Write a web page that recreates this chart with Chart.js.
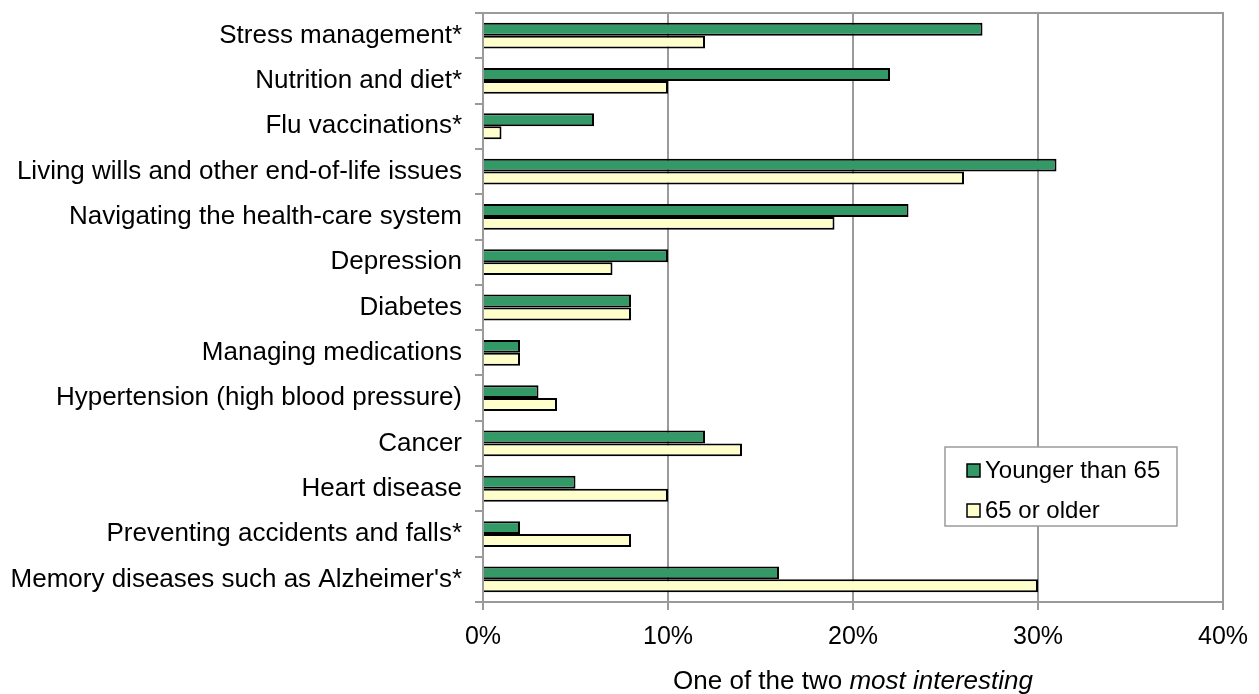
<!DOCTYPE html>
<html>
<head>
<meta charset="utf-8">
<script src="https://cdn.jsdelivr.net/npm/chart.js@4.4.0/dist/chart.umd.min.js"></script>
<style>
  html, body { margin: 0; padding: 0; background: #fff; }
  #wrap { width: 1259px; height: 694px; }
</style>
</head>
<body>
<div id="wrap"><canvas id="chart" width="1259" height="694"></canvas></div>
<script>
const topics = [
    'Stress management*',
    'Nutrition and diet*',
    'Flu vaccinations*',
    'Living wills and other end-of-life issues',
    'Navigating the health-care system',
    'Depression',
    'Diabetes',
    'Managing medications',
    'Hypertension (high blood pressure)',
    'Cancer',
    'Heart disease',
    'Preventing accidents and falls*',
    "Memory diseases such as Alzheimer's*"
];
const youngerThan65 = [27, 22, 6, 31, 23, 10, 8, 2, 3, 12, 5, 2, 16];
const olderThan65 = [12, 10, 1, 26, 19, 7, 8, 2, 4, 14, 10, 8, 30];
const seriesNames = ['Younger than 65', '65 or older'];
const xTicks = [0, 10, 20, 30, 40];

const FONT = "'Liberation Sans', Arial, sans-serif";
const GRID = '#9a9a9a';

// plot frame in gray
const framePlugin = {
    id: 'frame',
    afterDatasetsDraw(chart) {
        const { ctx, chartArea: a } = chart;
        ctx.save();
        ctx.strokeStyle = GRID;
        ctx.lineWidth = 2;
        ctx.strokeRect(a.left, a.top, a.right - a.left, a.bottom - a.top);
        ctx.restore();
    }
};

// boxed legend sitting inside the plot
const boxLegend = {
    id: 'boxLegend',
    afterDraw(chart) {
        const ctx = chart.ctx;
        const x = 945, y = 447, w = 232, h = 79;
        ctx.save();
        ctx.fillStyle = '#fff';
        ctx.fillRect(x, y, w, h);
        ctx.strokeStyle = GRID;
        ctx.lineWidth = 1.5;
        ctx.strokeRect(x, y, w, h);
        ctx.font = '24px ' + FONT;
        ctx.textBaseline = 'middle';
        chart.data.datasets.forEach((ds, i) => {
            const cy = y + 23 + i * 40;
            ctx.fillStyle = ds.backgroundColor;
            ctx.fillRect(x + 22, cy - 6, 13, 13);
            ctx.strokeStyle = '#000';
            ctx.lineWidth = 1.5;
            ctx.strokeRect(x + 22, cy - 6, 13, 13);
            ctx.fillStyle = '#000';
            ctx.fillText(ds.label, x + 40, cy + 1);
        });
        ctx.restore();
    }
};

// axis title with an italic part
const xTitle = {
    id: 'xTitle',
    afterDraw(chart) {
        const { ctx, chartArea: a } = chart;
        const plain = 'One of the two ';
        const ital = 'most interesting';
        ctx.save();
        ctx.fillStyle = '#000';
        ctx.textBaseline = 'alphabetic';
        ctx.font = '26px ' + FONT;
        const w1 = ctx.measureText(plain).width;
        ctx.font = 'italic 26px ' + FONT;
        const w2 = ctx.measureText(ital).width;
        const x0 = (a.left + a.right) / 2 - (w1 + w2) / 2;
        ctx.font = '26px ' + FONT;
        ctx.fillText(plain, x0, 689);
        ctx.font = 'italic 26px ' + FONT;
        ctx.fillText(ital, x0 + w1, 689);
        ctx.restore();
    }
};

new Chart(document.getElementById('chart'), {
    type: 'bar',
    data: {
        labels: topics,
        datasets: [
            {
                label: seriesNames[0],
                data: youngerThan65,
                backgroundColor: '#339966',
                borderColor: '#000',
                borderWidth: 2
            },
            {
                label: seriesNames[1],
                data: olderThan65,
                backgroundColor: '#ffffcc',
                borderColor: '#000',
                borderWidth: 2
            }
        ]
    },
    options: {
        indexAxis: 'y',
        responsive: false,
        animation: false,
        devicePixelRatio: 1,
        layout: { padding: { top: 13, right: 36, left: 0, bottom: 0 } },
        datasets: { bar: { categoryPercentage: 0.57, barPercentage: 1 } },
        plugins: {
            legend: { display: false },
            tooltip: { enabled: false }
        },
        scales: {
            x: {
                min: xTicks[0],
                max: xTicks[xTicks.length - 1],
                afterBuildTicks: (s) => { s.ticks = xTicks.map(v => ({ value: v })); },
                ticks: {
                    callback: (v) => v + '%',
                    color: '#000',
                    font: { family: FONT, size: 25 },
                    padding: 12,
                    maxRotation: 0
                },
                grid: { color: GRID, lineWidth: 2, tickLength: 8, tickColor: GRID },
                border: { display: false },
                afterFit: (s) => { s.height = 92; s.paddingLeft = 0; s.paddingRight = 0; }
            },
            y: {
                ticks: {
                    color: '#000',
                    font: { family: FONT, size: 26 },
                    padding: 13,
                    autoSkip: false
                },
                grid: { drawOnChartArea: false, tickLength: 8, tickColor: GRID, lineWidth: 2, offset: true },
                border: { display: false },
                afterFit: (s) => { s.width = 483; s.paddingTop = 0; s.paddingBottom = 0; }
            }
        }
    },
    plugins: [framePlugin, boxLegend, xTitle]
});
</script>
</body>
</html>
